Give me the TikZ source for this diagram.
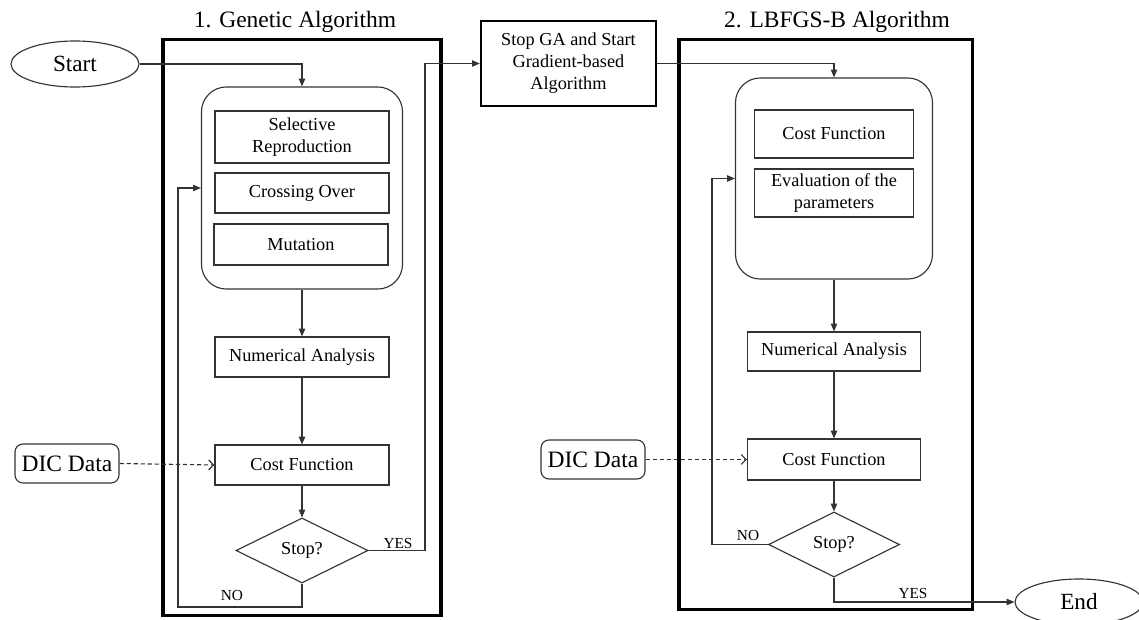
\documentclass[tikz,border=0pt]{standalone}
\usepackage{fontspec}
\setmainfont{Liberation Serif}
\usetikzlibrary{shapes.geometric,arrows.meta}
\begin{document}
\begin{tikzpicture}[x=0.025cm,y=-0.025cm,
  lncol/.style={draw=black!80, line width=0.8pt},
  arr/.style={lncol, -{Triangle[length=5.5pt,width=4.5pt]}},
  dasharr/.style={lncol, dash pattern=on 3pt off 2pt, -{Straight Barb[length=3.5pt,width=7pt]}},
  procbox/.style={lncol, rectangle, inner sep=0pt, align=center, font=\fontsize{13}{15.6}\selectfont},
  groupbox/.style={lncol, rectangle, rounded corners=0.62cm, inner sep=0pt},
  outerframe/.style={draw=black, line width=2.2pt, rectangle, inner sep=0pt},
  termnode/.style={lncol, ellipse, inner sep=0pt, minimum width=3.2cm, minimum height=1.15cm, font=\fontsize{16.5}{19}\selectfont},
  datanode/.style={lncol, rectangle, rounded corners=0.2cm, inner sep=0pt, minimum width=2.6cm, minimum height=0.975cm, font=\fontsize{16.7}{19}\selectfont},
  decision/.style={lncol, diamond, inner sep=0pt, minimum width=3.3cm, minimum height=1.625cm, font=\fontsize{13}{15.6}\selectfont},
  titletext/.style={font=\fontsize{16.7}{19}\selectfont, inner sep=0pt},
  edgelabel/.style={font=\fontsize{10.9}{12}\selectfont, inner sep=0pt}]
\useasboundingbox (0,0) rectangle (1139,619);

% ---------- stage 1: genetic algorithm ----------
\node[titletext] (title1) at (295,22) {1. Genetic Algorithm};
\node[outerframe, minimum width=6.95cm, minimum height=14.375cm] (gaframe) at (302,327.5) {};
\node[termnode] (start) at (75,64) {Start};

\node[groupbox, minimum width=5.025cm, minimum height=5.05cm] (garound) at (302,188) {};
\node[procbox, minimum width=4.35cm, minimum height=1.3cm] (sel) at (302,137) {Selective\\Reproduction};
\node[procbox, minimum width=4.35cm, minimum height=1.0cm] (cross) at (302,193) {Crossing Over};
\node[procbox, minimum width=4.35cm, minimum height=1.025cm] (mut) at (301,244.5) {Mutation};

\node[procbox, minimum width=4.35cm, minimum height=1.0cm] (num1) at (302,357) {Numerical Analysis};
\node[procbox, minimum width=4.35cm, minimum height=1.0cm] (cost1) at (302,465) {Cost Function};
\node[decision] (dia1) at (302,550.5) {Stop?};
\node[datanode] (dic1) at (67,463.5) {DIC Data};

\coordinate (noL) at (178,607);
\coordinate (yesL) at (425,550.5);

\draw[arr] (start.east) -| (garound.north);
\draw[arr] (garound.south) -- (num1.north);
\draw[arr] (num1.south) -- (cost1.north);
\draw[arr] (cost1.south) -- (dia1.north);
\draw[dasharr] (dic1.east) -- (cost1.west);
\draw[arr] (dia1.south) |- (noL) |- (garound.west);
\node[edgelabel] (nol) at (232,595) {NO};

% ---------- hand-over box ----------
\node[draw=black, line width=1.6pt, rectangle, inner sep=0pt, align=center,
      minimum width=4.375cm, minimum height=2.125cm,
      font=\fontsize{13}{15.6}\selectfont] (stopga) at (568.5,63.5)
      {Stop GA and Start\\Gradient-based\\Algorithm};
\draw[arr] (dia1.east) -- (yesL) |- (stopga.west);
\node[edgelabel] (yesl) at (398,543) {YES};

% ---------- stage 2: L-BFGS-B ----------
\node[titletext] (title2) at (837,22) {2. LBFGS-B Algorithm};
\node[outerframe, minimum width=7.325cm, minimum height=14.225cm] (lbframe) at (825.5,324.5) {};

\node[groupbox, minimum width=4.925cm, minimum height=5.025cm] (lbround) at (834,178.5) {};
\node[procbox, minimum width=3.975cm, minimum height=1.2cm] (cost2in) at (834,134) {Cost Function};
\node[procbox, minimum width=3.975cm, minimum height=1.2cm] (eval) at (834,193) {Evaluation of the\\parameters};

\node[procbox, minimum width=4.325cm, minimum height=0.975cm] (num2) at (834,351.5) {Numerical Analysis};
\node[procbox, minimum width=4.325cm, minimum height=1.025cm] (cost2) at (834,459.5) {Cost Function};
\node[decision, minimum width=3.275cm] (dia2) at (834,544.5) {Stop?};
\node[datanode] (dic2) at (593,459.5) {DIC Data};
\node[termnode] (endn) at (1079,602) {End};

\coordinate (noR) at (712,544.5);

\draw[arr] (stopga.east) -| (lbround.north);
\draw[arr] (lbround.south) -- (num2.north);
\draw[arr] (num2.south) -- (cost2.north);
\draw[arr] (cost2.south) -- (dia2.north);
\draw[dasharr] (dic2.east) -- (cost2.west);
\draw[arr] (dia2.west) -- (noR) |- (lbround.west);
\node[edgelabel] (nor) at (748,535) {NO};
\draw[arr] (dia2.south) |- (endn.west);
\node[edgelabel] (yesr) at (913,593) {YES};
\end{tikzpicture}
\end{document}
